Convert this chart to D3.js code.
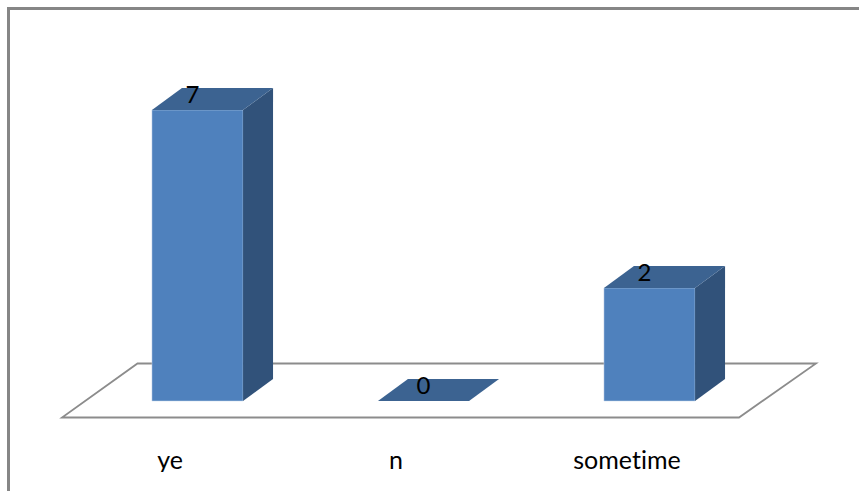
<!DOCTYPE html>
<html>
<head>
<meta charset="utf-8">
<script src="https://cdn.jsdelivr.net/npm/d3@7"></script>
<style>
html,body{margin:0;padding:0;background:#fff;overflow:hidden}
svg{display:block}
text{font-family:Lato,"Open Sans",sans-serif;fill:#000;font-variant-ligatures:none}
</style>
</head>
<body>
<script>
var categories = ['ye','n','sometime']
var values = [7,0,2]
var tickValues = [0,2,7]

var width = 859, height = 491
var depthX = 30, depthY = -22

var svg = d3.select('body').append('svg')
	.attr('width',width).attr('height',height)

var x = d3.scaleBand().domain(categories)
	.range([84.5,762.5]).paddingInner(0.597).paddingOuter(0.2985)

// bars in the picture are not proportional to their labels, so the scale has a knee at 2
var y = d3.scaleLinear().domain(tickValues).range([401,288,110])

// outer frame, only top and left are visible
svg.append('path')
	.attr('d','M 8.5 491 L 8.5 8.5 L 859 8.5')
	.style('fill','none').style('stroke','#868686').style('stroke-width',3)

// floor
svg.append('path')
	.attr('d','M 62 417.5 L 739 417.5 L 816 363.5 L 137.5 363.5 Z')
	.style('fill','#fff').style('stroke','#8c8c8c').style('stroke-width',1.8)

var bars = svg.append('g').attr('id','bars')

categories.forEach((e,i,a)=>{
	var x0 = x(e), x1 = x0 + x.bandwidth()
	var y0 = y(0), y1 = y(values[i])
	var thisBar = bars.append('g').attr('id','bar-'+i)

	if (values[i]>0) {
		thisBar.append('path')
			.attr('d',`M ${x0} ${y0} L ${x1} ${y0} L ${x1} ${y1} L ${x0} ${y1} Z`)
			.style('fill','#4f81bd').style('stroke','#c3d4e8').style('stroke-width',.5)
		thisBar.append('path')
			.attr('d',`M ${x1} ${y0} L ${x1+depthX} ${y0+depthY} L ${x1+depthX} ${y1+depthY} L ${x1} ${y1} Z`)
			.style('fill','#31527a')
	}
	thisBar.append('path')
		.attr('d',`M ${x0} ${y1} L ${x1} ${y1} L ${x1+depthX} ${y1+depthY} L ${x0+depthX} ${y1+depthY} Z`)
		.style('fill','#3c6391')
})

var labels = svg.append('g').attr('id','labels')
categories.forEach((e,i,a)=>{
	labels.append('text').text(values[i])
		.attr('text-anchor','middle')
		.attr('x',x(e) + x.bandwidth()/2 + (values[i]==0?0:-5))
		.attr('y',y(values[i]) - 7)
		.style('font-size','24px')
})

// the category labels are cut off at the bottom in the original
svg.append('clipPath').attr('id','axisClip')
	.append('rect').attr('x',0).attr('y',0).attr('width',width).attr('height',472)

var axisWrap = svg.append('g').attr('clip-path','url(#axisClip)')
var axis = axisWrap.append('g')
	.attr('transform','translate(-22.5,452)')
	.call(d3.axisBottom(x).tickSize(0).tickPadding(0))
axis.select('.domain').remove()
axis.selectAll('text')
	.attr('dy',null).attr('y',17)
	.attr('x',d=>(d=='sometime'?0:-5))
	.style('font-family','Lato,"Open Sans",sans-serif')
	.style('font-size','25px')
	.style('fill','#000')
</script>
</body>
</html>
